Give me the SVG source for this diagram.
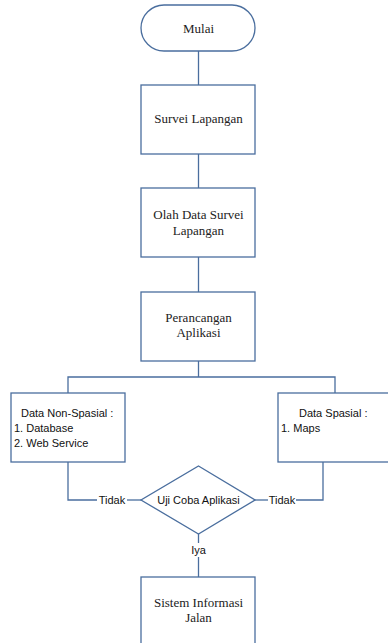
<svg xmlns="http://www.w3.org/2000/svg" width="388" height="643" viewBox="0 0 388 643">
<style>
.s{fill:#fff;stroke:#4A6E9E;stroke-width:1.3}
.c{fill:none;stroke:#4A6E9E;stroke-width:1.3}
.t{font-family:"Liberation Serif","Times New Roman",serif;font-size:13px;fill:#222;text-anchor:middle}
.k{font-family:"Liberation Sans",Arial,sans-serif;font-size:11px;fill:#111}
.m{text-anchor:middle}
</style>
<rect width="388" height="643" fill="#fff"/>
<g id="connectors">
<line class="c" x1="198.5" y1="51" x2="198.5" y2="85"/>
<line class="c" x1="198.5" y1="154" x2="198.5" y2="188"/>
<line class="c" x1="198.5" y1="257" x2="198.5" y2="292"/>
<line class="c" x1="198.5" y1="361" x2="198.5" y2="377"/>
<polyline class="c" points="68,393 68,377 335,377 335,393"/>
<polyline class="c" points="68,462 68,500 97,500"/>
<line class="c" x1="127" y1="500" x2="141" y2="500"/>
<polyline class="c" points="323,462 323,500 296,500"/>
<line class="c" x1="255" y1="500" x2="268" y2="500"/>
<line class="c" x1="198.5" y1="534" x2="198.5" y2="543"/>
<line class="c" x1="198.5" y1="557" x2="198.5" y2="577"/>
<text class="k m" x="112" y="504">Tidak</text>
<text class="k m" x="282" y="504">Tidak</text>
<text class="k m" x="198.5" y="554">Iya</text>
</g>
<g id="mulai">
<rect class="s" x="141" y="5" width="114" height="46" rx="23" ry="23"/>
<text class="t" x="198.5" y="33">Mulai</text>
</g>
<g id="survei">
<rect class="s" x="141" y="85" width="114" height="69"/>
<text class="t" x="198.5" y="123">Survei Lapangan</text>
</g>
<g id="olah">
<rect class="s" x="141" y="188" width="114" height="69"/>
<text class="t" x="198.5" y="219">Olah Data Survei</text>
<text class="t" x="198.5" y="235">Lapangan</text>
</g>
<g id="perancangan">
<rect class="s" x="141" y="292" width="114" height="69"/>
<text class="t" x="198.5" y="322">Perancangan</text>
<text class="t" x="198.5" y="337">Aplikasi</text>
</g>
<g id="nonspasial">
<rect class="s" x="11" y="393" width="114" height="69"/>
<text class="k" x="21" y="417">Data Non-Spasial :</text>
<text class="k" x="14" y="432">1. Database</text>
<text class="k" x="14" y="447">2. Web Service</text>
</g>
<g id="spasial">
<rect class="s" x="278" y="393" width="116" height="69"/>
<text class="k" x="299" y="417">Data Spasial :</text>
<text class="k" x="281" y="432">1. Maps</text>
</g>
<g id="ujicoba">
<polygon class="s" points="198.5,466 255,500 198.5,534 141,500"/>
<text class="k m" x="198.5" y="504">Uji Coba Aplikasi</text>
</g>
<g id="sistem">
<rect class="s" x="141" y="577" width="114" height="80"/>
<text class="t" x="198.5" y="607">Sistem Informasi</text>
<text class="t" x="198.5" y="622">Jalan</text>
</g>
</svg>
